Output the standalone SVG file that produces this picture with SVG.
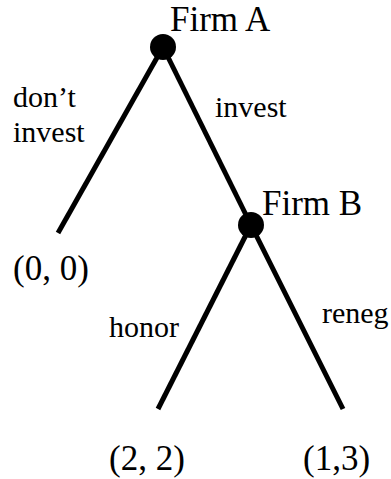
<svg xmlns="http://www.w3.org/2000/svg" width="391" height="479" viewBox="0 0 391 479">
<style>
.t{font-family:"Liberation Serif","Times New Roman",serif;fill:#000}
.big{font-size:35px}
.sm{font-size:30px}
.e{stroke:#000;stroke-width:5;fill:none}
.n{fill:#000}
</style>
<rect width="391" height="479" fill="#fff"/>
<g id="connectors">
<line class="e" x1="163" y1="47" x2="58" y2="233"/>
<line class="e" x1="163" y1="47" x2="251" y2="225"/>
<line class="e" x1="251" y1="225" x2="158" y2="409"/>
<line class="e" x1="251" y1="225" x2="343" y2="409"/>
</g>
<g id="firmA"><circle class="n" cx="163" cy="47" r="13"/><text class="t big" x="170" y="31">Firm A</text></g>
<g id="firmB"><circle class="n" cx="251" cy="225" r="13"/><text class="t big" x="262" y="215">Firm B</text></g>
<g id="leaf00"><text class="t big" x="13" y="280">(0, 0)</text></g>
<g id="leaf22"><text class="t big" x="109" y="470">(2, 2)</text></g>
<g id="leaf13"><text class="t big" x="303" y="470">(1,3)</text></g>
<g id="labels">
<text class="t sm" x="13" y="107">don’t</text>
<text class="t sm" x="13" y="142">invest</text>
<text class="t sm" x="215" y="117">invest</text>
<text class="t sm" x="109" y="337">honor</text>
<text class="t sm" x="322" y="323">reneg</text>
</g>
</svg>
